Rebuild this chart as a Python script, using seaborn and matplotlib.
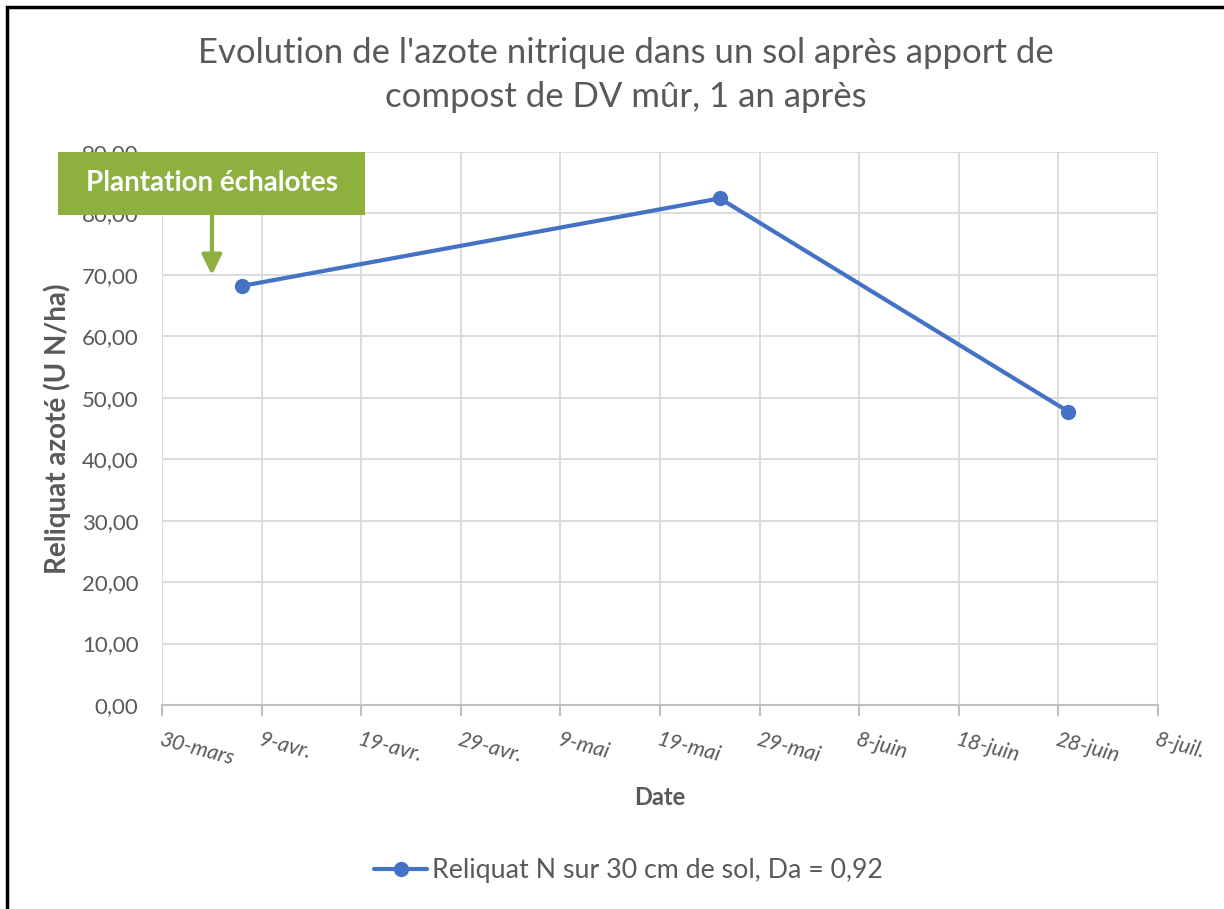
import matplotlib
matplotlib.use("Agg")
import matplotlib.pyplot as plt
import matplotlib.dates as mdates
import seaborn as sns
import pandas as pd
from matplotlib.patches import Rectangle

# ---- data ----
dates = ["2021-04-07", "2021-05-25", "2021-06-29"]
reliquat = [68.2, 82.45, 47.75]
series_name = "Reliquat N sur 30 cm de sol, Da = 0,92"
tick_dates = ["2021-03-30", "2021-04-09", "2021-04-19", "2021-04-29", "2021-05-09",
              "2021-05-19", "2021-05-29", "2021-06-08", "2021-06-18", "2021-06-28",
              "2021-07-08"]
tick_labels = ["30-mars", "9-avr.", "19-avr.", "29-avr.", "9-mai", "19-mai",
               "29-mai", "8-juin", "18-juin", "28-juin", "8-juil."]
y_ticks = [0, 10, 20, 30, 40, 50, 60, 70, 80, 90]
y_tick_labels = ["0,00", "10,00", "20,00", "30,00", "40,00", "50,00", "60,00",
                 "70,00", "80,00", "90,00"]
title = "Evolution de l'azote nitrique dans un sol après apport de\ncompost de DV mûr, 1 an après"
annotation_text = "Plantation échalotes"
annotation_date = "2021-04-04"

sns.set_theme(style="white")
plt.rcParams['font.family'] = ['Lato', 'DejaVu Sans']

df = pd.DataFrame({"Date": pd.to_datetime(dates), "Reliquat": reliquat,
                   "serie": [series_name] * len(dates)})

fig = plt.figure(figsize=(12.24, 9.09), dpi=100)
ax = fig.add_axes([162/1224, 1 - 705/909, (1158-162)/1224, (705-152)/909])

blue = "#4472C4"
sns.lineplot(data=df, x="Date", y="Reliquat", hue="serie", palette=[blue],
             marker="o", markersize=11, markeredgewidth=0, linewidth=3, ax=ax,
             legend=True)

tds = pd.to_datetime(tick_dates)
ax.set_xlim(tds[0], tds[-1])
ax.set_ylim(0, 90)
ax.set_xticks(tds)
ax.set_xticklabels(tick_labels, rotation=-15, ha="left", rotation_mode="anchor",
                   fontsize=15.5, color="#595959", style="italic")
ax.set_yticks(y_ticks)
ax.set_yticklabels(y_tick_labels, fontsize=16, color="#595959")
ax.tick_params(axis="y", length=0, pad=17)
ax.tick_params(axis="x", length=8, width=1.5, color="#BFBFBF", direction="out",
               pad=10, bottom=True)
ax.grid(True, color="#D9D9D9", linewidth=1.3)
for s in ["top", "right", "left"]:
    ax.spines[s].set_visible(False)
ax.spines["bottom"].set_color("#BFBFBF")
ax.spines["bottom"].set_linewidth(1.5)
ax.set_axisbelow(True)

ax.set_xlabel("Date", fontsize=17, fontweight="bold", color="#595959", labelpad=12)
ax.set_ylabel("Reliquat azoté (U N/ha)", fontsize=20, fontweight="bold",
              color="#595959", labelpad=8)

fig.text(0.511, 1 - 75/909, title, ha="center", va="center", fontsize=25,
         color="#595959", linespacing=1.45)

# legend
leg = ax.legend(loc="center", bbox_to_anchor=(0.468, -0.30), frameon=False,
                fontsize=19.3, handlelength=2.0, handletextpad=0.15)
for t in leg.get_texts():
    t.set_color("#595959")

# annotation box
green = "#8DB03F"
fig.patches.append(Rectangle((58/1224, 1 - 215/909), (365-58)/1224, (215-152)/909,
                             transform=fig.transFigure, facecolor=green,
                             edgecolor="none", zorder=5))
fig.text((58+365)/2/1224, 1 - 183/909, annotation_text, ha="center", va="center",
         fontsize=20, fontweight="bold", color="white", zorder=6)
ax_x = mdates.date2num(pd.Timestamp(annotation_date))
ax.annotate("", xy=(ax_x, 70.0), xycoords="data",
            xytext=(212/1224, 1 - 215/909), textcoords="figure fraction",
            arrowprops=dict(arrowstyle="-|>,head_length=1.0,head_width=0.5",
                            color=green, lw=3, shrinkA=0, shrinkB=0),
            annotation_clip=False, zorder=6)

# outer frame (left and top edges visible)
fig.patches.append(Rectangle((7/1224, -0.1), 1.2, 1 - 7/909 + 0.1,
                             transform=fig.transFigure, facecolor="none",
                             edgecolor="black", linewidth=2.5, zorder=10))

fig.savefig("out.png", dpi=100, facecolor="white")
